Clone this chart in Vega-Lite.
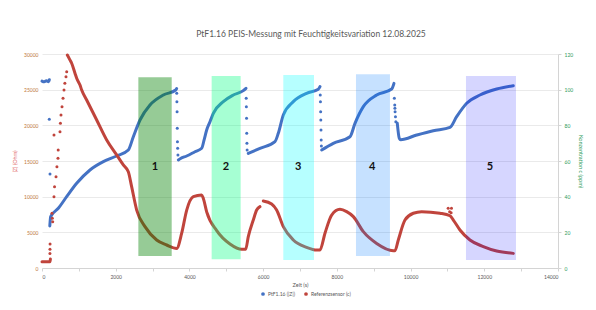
{
  "$schema": "https://vega.github.io/schema/vega-lite/v6.json",
  "width": 516,
  "height": 214,
  "autosize": {"type": "none"},
  "padding": {"left": 42, "top": 54, "right": 38, "bottom": 42},
  "background": "white",
  "title": {"text": "PtF1.16 PEIS-Messung mit Feuchtigkeitsvariation 12.08.2025", "fontSize": 8.5, "font": "Lato", "fontWeight": "normal", "color": "#595959", "anchor": "middle", "offset": 14, "dx": 11},
  "datasets": {
    "zline": [
      {"seg": "a", "t": 0, "z": 26200}, {"seg": "a", "t": 60, "z": 26100}, {"seg": "a", "t": 120, "z": 26250}, {"seg": "a", "t": 180, "z": 26100}, {"seg": "a", "t": 200, "z": 26400},
      {"seg": "b", "t": 212, "z": 5900}, {"seg": "b", "t": 222, "z": 6600}, {"seg": "b", "t": 235, "z": 7200}, {"seg": "b", "t": 443, "z": 8370}, {"seg": "b", "t": 669, "z": 10000}, {"seg": "b", "t": 941, "z": 11870}, {"seg": "b", "t": 1302, "z": 13740}, {"seg": "b", "t": 1664, "z": 14910}, {"seg": "b", "t": 2025, "z": 15700}, {"seg": "b", "t": 2342, "z": 16540}, {"seg": "b", "t": 2478, "z": 18400}, {"seg": "b", "t": 2659, "z": 20750}, {"seg": "b", "t": 2930, "z": 22850}, {"seg": "b", "t": 3292, "z": 24250}, {"seg": "b", "t": 3627, "z": 24950}, {"seg": "b", "t": 3654, "z": 25150},
      {"seg": "c", "t": 3699, "z": 15140}, {"seg": "c", "t": 3760, "z": 15350}, {"seg": "c", "t": 3925, "z": 15700}, {"seg": "c", "t": 4150, "z": 16300}, {"seg": "c", "t": 4332, "z": 16780}, {"seg": "c", "t": 4400, "z": 18000}, {"seg": "c", "t": 4468, "z": 19350}, {"seg": "c", "t": 4558, "z": 20500}, {"seg": "c", "t": 4648, "z": 21680}, {"seg": "c", "t": 4919, "z": 23320}, {"seg": "c", "t": 5190, "z": 24250}, {"seg": "c", "t": 5461, "z": 24860}, {"seg": "c", "t": 5535, "z": 25190},
      {"seg": "d", "t": 5597, "z": 16070}, {"seg": "d", "t": 5914, "z": 16780}, {"seg": "d", "t": 6321, "z": 17710}, {"seg": "d", "t": 6411, "z": 18880}, {"seg": "d", "t": 6547, "z": 21450}, {"seg": "d", "t": 6818, "z": 23320}, {"seg": "d", "t": 7180, "z": 24490}, {"seg": "d", "t": 7496, "z": 25050}, {"seg": "d", "t": 7542, "z": 25420},
      {"seg": "e", "t": 7588, "z": 16540}, {"seg": "e", "t": 7903, "z": 17480}, {"seg": "e", "t": 8356, "z": 18400}, {"seg": "e", "t": 8492, "z": 20280}, {"seg": "e", "t": 8718, "z": 22620}, {"seg": "e", "t": 9080, "z": 24250}, {"seg": "e", "t": 9487, "z": 25090}, {"seg": "e", "t": 9550, "z": 25890},
      {"seg": "f", "t": 9640, "z": 20280}, {"seg": "f", "t": 9694, "z": 18180}, {"seg": "f", "t": 9731, "z": 17990}, {"seg": "f", "t": 10165, "z": 18640}, {"seg": "f", "t": 10617, "z": 19250}, {"seg": "f", "t": 11069, "z": 19720}, {"seg": "f", "t": 11250, "z": 21210}, {"seg": "f", "t": 11522, "z": 23090}, {"seg": "f", "t": 11883, "z": 24250}, {"seg": "f", "t": 12336, "z": 25090}, {"seg": "f", "t": 12787, "z": 25560}
    ],
    "zdots": [
      {"t": 198, "z": 20850}, {"t": 217, "z": 13180},
      {"t": 3656, "z": 24490}, {"t": 3660, "z": 23320}, {"t": 3665, "z": 21920}, {"t": 3670, "z": 19580}, {"t": 3675, "z": 17710}, {"t": 3680, "z": 16780}, {"t": 3688, "z": 15840},
      {"t": 5540, "z": 23790}, {"t": 5545, "z": 22620}, {"t": 5550, "z": 20980}, {"t": 5555, "z": 18880}, {"t": 5560, "z": 17480}, {"t": 5565, "z": 16540},
      {"t": 7550, "z": 24250}, {"t": 7555, "z": 23320}, {"t": 7560, "z": 21920}, {"t": 7565, "z": 20750}, {"t": 7570, "z": 19350}, {"t": 7575, "z": 17950}, {"t": 7580, "z": 17100},
      {"t": 9560, "z": 23790}, {"t": 9570, "z": 22850}, {"t": 9575, "z": 22390}, {"t": 9580, "z": 21920}, {"t": 9590, "z": 21210}, {"t": 9600, "z": 20510}
    ],
    "cline": [
      {"seg": "a", "t": 0, "c": 3.5}, {"seg": "a", "t": 217, "c": 3.5}, {"seg": "a", "t": 228, "c": 5},
      {"seg": "b", "t": 688, "c": 119.4}, {"seg": "b", "t": 750, "c": 117}, {"seg": "b", "t": 805, "c": 114.8}, {"seg": "b", "t": 895, "c": 109.2}, {"seg": "b", "t": 941, "c": 106.4}, {"seg": "b", "t": 1031, "c": 102.6}, {"seg": "b", "t": 1077, "c": 99.8}, {"seg": "b", "t": 1212, "c": 94.2}, {"seg": "b", "t": 1484, "c": 83}, {"seg": "b", "t": 1755, "c": 71.8}, {"seg": "b", "t": 2026, "c": 63.4}, {"seg": "b", "t": 2206, "c": 57.8}, {"seg": "b", "t": 2342, "c": 54}, {"seg": "b", "t": 2432, "c": 45.6}, {"seg": "b", "t": 2569, "c": 32.5}, {"seg": "b", "t": 2794, "c": 23.2}, {"seg": "b", "t": 3111, "c": 15.7}, {"seg": "b", "t": 3383, "c": 12.9}, {"seg": "b", "t": 3654, "c": 11}, {"seg": "b", "t": 3790, "c": 19.5}, {"seg": "b", "t": 3926, "c": 32.5}, {"seg": "b", "t": 4106, "c": 40}, {"seg": "b", "t": 4332, "c": 40.9}, {"seg": "b", "t": 4377, "c": 39}, {"seg": "b", "t": 4468, "c": 31.5}, {"seg": "b", "t": 4740, "c": 21}, {"seg": "b", "t": 5100, "c": 13.5}, {"seg": "b", "t": 5418, "c": 10.5}, {"seg": "b", "t": 5526, "c": 10.5}, {"seg": "b", "t": 5597, "c": 17.6}, {"seg": "b", "t": 5733, "c": 26.9}, {"seg": "b", "t": 5824, "c": 32.5}, {"seg": "b", "t": 5914, "c": 34.4},
      {"seg": "c", "t": 6004, "c": 37.6}, {"seg": "c", "t": 6230, "c": 35.9}, {"seg": "c", "t": 6366, "c": 32.5}, {"seg": "c", "t": 6547, "c": 23.2}, {"seg": "c", "t": 6818, "c": 15.7}, {"seg": "c", "t": 7180, "c": 11.6}, {"seg": "c", "t": 7452, "c": 10.1}, {"seg": "c", "t": 7542, "c": 10.1}, {"seg": "c", "t": 7678, "c": 19.5}, {"seg": "c", "t": 7859, "c": 29.7}, {"seg": "c", "t": 8085, "c": 32.9}, {"seg": "c", "t": 8266, "c": 31.6}, {"seg": "c", "t": 8447, "c": 28.8}, {"seg": "c", "t": 8718, "c": 20.4}, {"seg": "c", "t": 9080, "c": 13.8}, {"seg": "c", "t": 9531, "c": 9.7}, {"seg": "c", "t": 9577, "c": 9.7}, {"seg": "c", "t": 9667, "c": 15.7}, {"seg": "c", "t": 9848, "c": 26.9}, {"seg": "c", "t": 10074, "c": 30.7}, {"seg": "c", "t": 10300, "c": 31.6}, {"seg": "c", "t": 10797, "c": 30.7}, {"seg": "c", "t": 11069, "c": 29.3}, {"seg": "c", "t": 11160, "c": 26.9}, {"seg": "c", "t": 11340, "c": 21.3}, {"seg": "c", "t": 11611, "c": 15.7}, {"seg": "c", "t": 11973, "c": 12}, {"seg": "c", "t": 12336, "c": 9.5}, {"seg": "c", "t": 12787, "c": 8.2}
    ],
    "cdots": [
      {"t": 215, "c": 8.2}, {"t": 217, "c": 10.5}, {"t": 219, "c": 13.5}, {"t": 271, "c": 30.7}, {"t": 280, "c": 27.9}, {"t": 290, "c": 26}, {"t": 325, "c": 40}, {"t": 340, "c": 45.6}, {"t": 325, "c": 74.6}, {"t": 380, "c": 51.2}, {"t": 405, "c": 56.8}, {"t": 434, "c": 61.5}, {"t": 440, "c": 66.2}, {"t": 488, "c": 76.4}, {"t": 500, "c": 81.1}, {"t": 515, "c": 85.8}, {"t": 543, "c": 90.4}, {"t": 570, "c": 95.2}, {"t": 597, "c": 99.8}, {"t": 620, "c": 103.6}, {"t": 651, "c": 107.3}, {"t": 670, "c": 110},
      {"t": 11020, "c": 33.5}, {"t": 11110, "c": 33.5}, {"t": 11060, "c": 31.5}, {"t": 11100, "c": 31}
    ],
    "bands": [
      {"band": "1", "t0": 2614, "t1": 3519, "c0": 6.7, "c1": 106.9, "tm": 3066},
      {"band": "2", "t0": 4603, "t1": 5390, "c0": 4.9, "c1": 107.7, "tm": 4992},
      {"band": "3", "t0": 6547, "t1": 7380, "c0": 4.5, "c1": 108.2, "tm": 6954},
      {"band": "4", "t0": 8519, "t1": 9441, "c0": 6.7, "c1": 108.6, "tm": 8961},
      {"band": "5", "t0": 11503, "t1": 12860, "c0": 4.5, "c1": 107.7, "tm": 12154}
    ]
  },
  "layer": [
    {
      "layer": [
        {
          "data": {"name": "zline"},
          "mark": {"type": "line", "strokeWidth": 3, "strokeCap": "round", "strokeJoin": "round", "interpolate": "monotone", "color": "#4472C4"},
          "encoding": {
            "x": {"field": "t", "type": "quantitative", "scale": {"domain": [0, 14000], "nice": false}, "title": "Zeit (s)"},
            "y": {"field": "z", "type": "quantitative", "scale": {"domain": [0, 30000], "nice": false}, "title": "|Z| (Ohm)"},
            "detail": {"field": "seg"}
          }
        },
        {
          "data": {"name": "zdots"},
          "mark": {"type": "point", "filled": true, "size": 9, "opacity": 1},
          "encoding": {
            "x": {"field": "t", "type": "quantitative", "title": "Zeit (s)"},
            "y": {"field": "z", "type": "quantitative", "title": "|Z| (Ohm)"},
            "color": {"datum": "PtF1.16 (|Z|)", "type": "nominal", "scale": {"domain": ["PtF1.16 (|Z|)", "Referenzsensor (c)"], "range": ["#4472C4", "#C0443C"]}}
          }
        }
      ]
    },
    {
      "layer": [
        {
          "data": {"name": "cline"},
          "mark": {"type": "line", "strokeWidth": 3, "strokeCap": "round", "strokeJoin": "round", "interpolate": "monotone", "color": "#C0443C"},
          "encoding": {
            "x": {"field": "t", "type": "quantitative", "title": "Zeit (s)"},
            "y": {"field": "c", "type": "quantitative", "scale": {"domain": [0, 120], "nice": false}, "title": "Konzentration c (ppm)"},
            "detail": {"field": "seg"}
          }
        },
        {
          "data": {"name": "cdots"},
          "mark": {"type": "point", "filled": true, "size": 9, "opacity": 1},
          "encoding": {
            "x": {"field": "t", "type": "quantitative", "title": "Zeit (s)"},
            "y": {"field": "c", "type": "quantitative", "title": "Konzentration c (ppm)"},
            "color": {"datum": "Referenzsensor (c)", "type": "nominal", "scale": {"domain": ["PtF1.16 (|Z|)", "Referenzsensor (c)"], "range": ["#4472C4", "#C0443C"]}}
          }
        },
        {
          "data": {"name": "bands"},
          "mark": {"type": "rect"},
          "encoding": {
            "x": {"field": "t0", "type": "quantitative", "title": "Zeit (s)"},
            "x2": {"field": "t1"},
            "y": {"field": "c0", "type": "quantitative", "title": "Konzentration c (ppm)"},
            "y2": {"field": "c1"},
            "fill": {"field": "band", "type": "nominal", "scale": {"domain": ["1", "2", "3", "4", "5"], "range": ["#008000", "#00ff80", "#00ffff", "#0078ff", "#0000ff"]}, "legend": null},
            "fillOpacity": {"field": "band", "type": "nominal", "scale": {"domain": ["1", "2", "3", "4", "5"], "range": [0.41, 0.16, 0.27, 0.16, 0.17]}, "legend": null}
          }
        },
        {
          "data": {"name": "bands"},
          "mark": {"type": "text", "font": "Lato", "fontSize": 11, "fontWeight": "bold", "color": "#111111"},
          "encoding": {
            "x": {"field": "tm", "type": "quantitative", "title": "Zeit (s)"},
            "y": {"datum": 56.5, "type": "quantitative"},
            "text": {"field": "band"}
          }
        }
      ]
    }
  ],
  "resolve": {"scale": {"y": "independent"}},
  "config": {
    "view": {"stroke": null},
    "font": "Lato",
    "axisX": {
      "values": [0, 1000, 2000, 3000, 4000, 5000, 6000, 7000, 8000, 9000, 10000, 11000, 12000, 13000, 14000],
      "labelExpr": "datum.value % 2000 == 0 ? datum.value : ''",
      "gridOpacity": {"condition": {"test": "datum.value % 2000 == 0", "value": 1}, "value": 0},
      "grid": true, "gridColor": "#e4e4e4", "gridWidth": 0.8,
      "domainColor": "#d4d4d4", "tickColor": "#d4d4d4", "tickSize": 3,
      "labelFontSize": 5, "labelColor": "#595959", "labelPadding": 3,
      "titleFontSize": 5.5, "titleFontWeight": "normal", "titleColor": "#595959", "titlePadding": 3
    },
    "axisLeft": {
      "values": [0, 5000, 10000, 15000, 20000, 25000, 30000],
      "format": "d",
      "grid": true, "gridColor": "#e4e4e4", "gridWidth": 0.8,
      "domain": false, "ticks": false,
      "labelFontSize": 5, "labelColor": "#C0773A", "labelPadding": 4,
      "titleFontSize": 5.5, "titleFontWeight": "normal", "titleColor": "#E06666", "titlePadding": 6
    },
    "axisRight": {
      "values": [0, 10, 20, 30, 40, 50, 60, 70, 80, 90, 100, 110, 120],
      "labelExpr": "datum.value % 20 == 0 ? datum.value : ''",
      "grid": false,
      "domain": true, "domainColor": "#d4d4d4", "tickColor": "#d4d4d4", "tickSize": 3,
      "labelFontSize": 5, "labelColor": "#2E9A5A", "labelPadding": 3,
      "titleFontSize": 5.5, "titleFontWeight": "normal", "titleColor": "#2E9A5A", "titlePadding": 5
    },
    "legend": {
      "orient": "none", "legendX": 218, "legendY": 237, "direction": "horizontal",
      "title": null, "labelFontSize": 5, "labelColor": "#595959", "symbolSize": 14, "symbolType": "circle", "columnPadding": 8, "labelOffset": 2
    }
  }
}
